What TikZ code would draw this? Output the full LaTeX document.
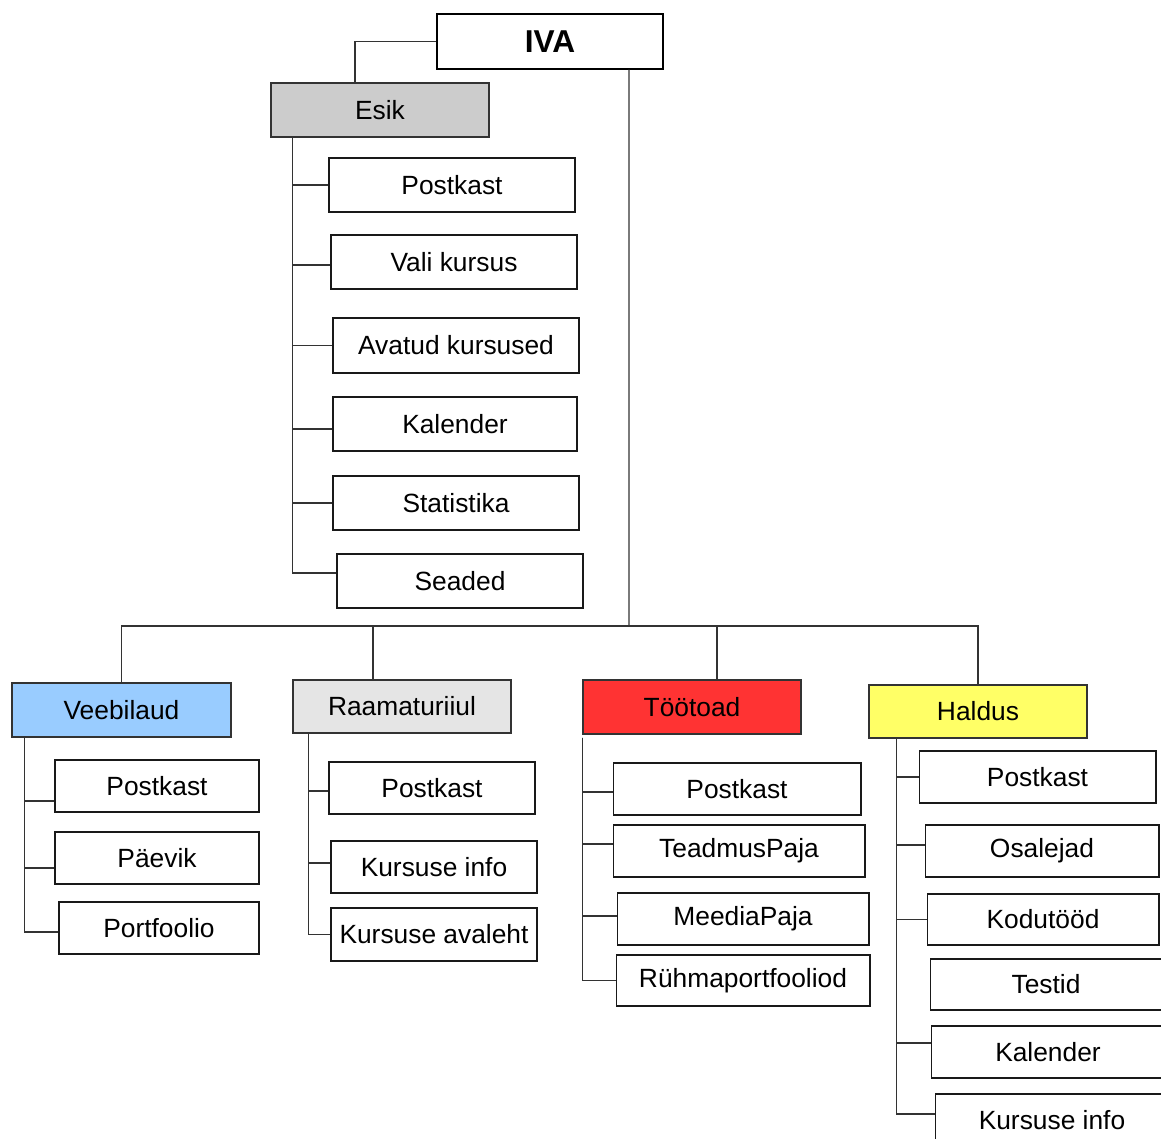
\documentclass[tikz,border=0pt]{standalone}
\usepackage{fontspec}
\setmainfont{Liberation Sans}
\usepackage{tikz}

\begin{document}
\begin{tikzpicture}
  [x=0.02cm,y=-0.02cm,line width=0.6pt,
   head/.style={rectangle,draw=black!80,minimum width=4.36cm,minimum height=1.08cm,
                font=\fontsize{15}{18}\selectfont},
   leaf/.style={rectangle,draw=black!90,fill=white,minimum width=#1,minimum height=1.04cm,
                font=\fontsize{15}{18}\selectfont},
   leaf/.default=4.92cm,
   link/.style={draw=black!80}]
  \useasboundingbox (0,0) rectangle (1161,1139);
  \clip (0,0) rectangle (1161,1139);
  % top
  \node at (550,41.5) (iva) [head,draw=black,minimum width=4.52cm,minimum height=1.1cm,
                             font=\fontsize{18}{20}\selectfont\bfseries] {IVA};
  \node at (380,110) (esik) [head,fill=black!20] {Esik};
  \node at (452,185) (e1) [leaf,minimum height=1.08cm] {Postkast};
  \node at (454,262) (e2) [leaf,minimum height=1.08cm] {Vali kursus};
  \node at (456,345.5) (e3) [leaf,minimum height=1.1cm] {Avatud kursused};
  \node at (455,424) (e4) [leaf=4.88cm,minimum height=1.08cm] {Kalender};
  \node at (456,503) (e5) [leaf,minimum height=1.08cm] {Statistika};
  \node at (460,581) (e6) [leaf,minimum height=1.08cm] {Seaded};
  % sections
  \node at (121.5,710) (veeb) [head,fill={rgb,255:red,153;green,204;blue,255},minimum width=4.38cm] {Veebilaud};
  \node at (157,786) (v1) [leaf=4.08cm] {Postkast};
  \node at (157,858) (v2) [leaf=4.08cm] {Päevik};
  \node at (159,928) (v3) [leaf=4.0cm] {Portfoolio};
  \node at (402,706.5) (raam) [head,fill=black!10,minimum height=1.06cm] {Raamaturiiul};
  \node at (432,788) (r1) [leaf=4.12cm] {Postkast};
  \node at (434,867) (r2) [leaf=4.12cm] {Kursuse info};
  \node at (434,934.5) (r3) [leaf=4.12cm,minimum height=1.06cm] {Kursuse avaleht};
  \node at (692,707) (toot) [head,fill={rgb,255:red,255;green,51;blue,51}] {Töötoad};
  \node at (737,789) (t1) [leaf=4.96cm] {Postkast};
  \node at (739,851) (t2) [leaf=5.04cm] {TeadmusPaja};
  \node at (743,919) (t3) [leaf=5.04cm] {MeediaPaja};
  \node at (743,980.5) (t4) [leaf=5.08cm,minimum height=1.02cm] {Rühmaportfooliod};
  \node at (978,711.5) (hald) [head,fill={rgb,255:red,255;green,255;blue,102},minimum height=1.06cm] {Haldus};
  \node at (1037.5,777) (h1) [leaf=4.74cm] {Postkast};
  \node at (1042,851) (h2) [leaf=4.68cm] {Osalejad};
  \node at (1043,919.5) (h3) [leaf=4.64cm,minimum height=1.02cm] {Kodutööd};
  \node at (1046,984.5) (h4) [leaf=4.64cm,minimum height=1.02cm] {Testid};
  \node at (1048,1052) (h5) [leaf=4.68cm] {Kalender};
  \node at (1052,1120.5) (h6) [leaf=4.68cm,minimum height=1.06cm] {Kursuse info};
  % connectors
  \coordinate (bus) at (629,626);
  \draw [link] (iva.west) -| ([xshift=-0.5cm]esik.north);
  \draw [link] ([xshift=1.58cm]iva.south) -- (bus);
  \draw [link] (bus) -| (veeb.north);
  \draw [link] (bus) -| ([xshift=-0.58cm]raam.north);
  \draw [link] (bus) -| ([xshift=0.5cm]toot.north);
  \draw [link] (bus) -| (hald.north);
  \foreach \c/\d in {e1/0,e2/-0.06,e3/0,e4/-0.1,e5/0,e6/0.16}
    \draw [link] ([xshift=0.44cm]esik.south west) |- ([yshift=\d cm]\c.west);
  \foreach \c/\d in {v1/-0.3,v2/-0.2,v3/-0.08}
    \draw [link] ([xshift=0.26cm]veeb.south west) |- ([yshift=\d cm]\c.west);
  \foreach \c/\d in {r1/-0.06,r2/0.08,r3/0}
    \draw [link] ([xshift=0.32cm]raam.south west) |- ([yshift=\d cm]\c.west);
  \foreach \c/\d in {t1/-0.06,t2/0.14,t3/0.06,t4/0}
    \draw [link] ([yshift=-0.06cm]toot.south west) |- ([yshift=\d cm]\c.west);
  \foreach \c/\d in {h1/0,h2/0.12,h3/0,h5/0.18,h6/0.13}
    \draw [link] ([xshift=0.56cm]hald.south west) |- ([yshift=\d cm]\c.west);
\end{tikzpicture}
\end{document}
